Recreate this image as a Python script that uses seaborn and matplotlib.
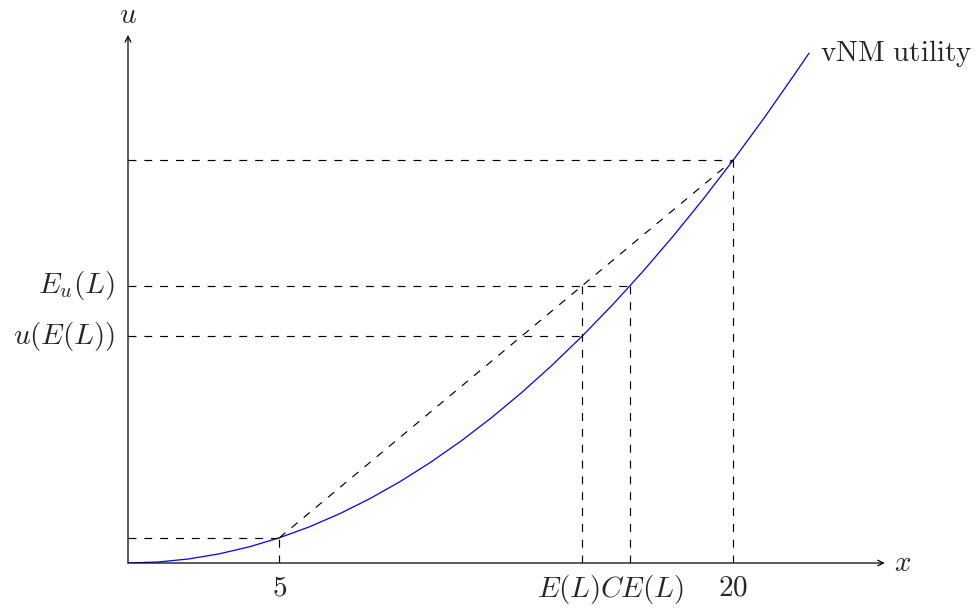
import numpy as np
import pandas as pd
import matplotlib
matplotlib.use("Agg")
import matplotlib.pyplot as plt
import seaborn as sns

# utility curve samples (u = x^2)
curve_x = [0, 1, 2, 3, 4, 5, 6, 7, 8, 9, 10, 11, 12, 13, 14, 15, 16, 17, 18, 19, 20, 21, 22, 22.5]
curve_u = [0, 1, 4, 9, 16, 25, 36, 49, 64, 81, 100, 121, 144, 169, 196, 225, 256, 289, 324, 361, 400, 441, 484, 506]

# lottery values
x_low, x_high = 5, 20
u_low, u_high = 25, 400
E_L = 15
u_EL = 225
Eu_L = 275
CE_L = 16.58

x_max, u_max = 25, 524

sns.set_style("white")
plt.rcParams["mathtext.fontset"] = "cm"
plt.rcParams["lines.scale_dashes"] = False

fig = plt.figure(figsize=(9.76, 6.09), dpi=100)
ax = fig.add_axes([128 / 976, 46 / 609, 756.7 / 976, 528 / 609])
ax.set_xlim(0, x_max)
ax.set_ylim(0, u_max)
for s in ax.spines.values():
    s.set_visible(False)

df = pd.DataFrame({"x": curve_x, "u": curve_u})
sns.lineplot(data=df, x="x", y="u", ax=ax, color="blue", lw=0.9, sort=True)

dash = dict(color="black", lw=0.85, ls=(0, (5.7, 5.7)))
segs = [
    ([0, x_low], [u_low, u_low]),
    ([x_low, x_low], [0, u_low]),
    ([x_low, x_high], [u_low, u_high]),
    ([0, x_high], [u_high, u_high]),
    ([x_high, x_high], [0, u_high]),
    ([0, CE_L], [Eu_L, Eu_L]),
    ([CE_L, CE_L], [0, Eu_L]),
    ([0, E_L], [u_EL, u_EL]),
    ([E_L, E_L], [0, Eu_L]),
]
for xs, ys in segs:
    ax.plot(xs, ys, **dash)

# axes arrows
arrow = dict(arrowstyle="->", color="black", lw=0.9, shrinkA=0, shrinkB=0)
ax.annotate("", xy=(x_max, 0), xytext=(0, 0), arrowprops=arrow, annotation_clip=False)
ax.annotate("", xy=(0, u_max), xytext=(0, 0), arrowprops=arrow, annotation_clip=False)

fs = 21
ax.text(x_max + 0.3, 0, r"$x$", fontsize=fs, ha="left", va="center")
ax.text(0, u_max + 6, r"$u$", fontsize=fs, ha="center", va="bottom")

ax.set_xticks([])
ax.set_yticks([])
ax.set_xlabel("")
ax.set_ylabel("")

# x tick labels
ty = -10
ax.text(x_low, ty, r"$5$", fontsize=fs, ha="center", va="top")
ax.text(x_high, ty, r"$20$", fontsize=fs, ha="center", va="top")
ax.annotate(r"$E(L)$", xy=(E_L, ty), xytext=(18, 0), textcoords="offset pixels",
            fontsize=fs, ha="right", va="top", annotation_clip=False)
ax.annotate(r"$CE(L)$", xy=(CE_L, ty), xytext=(-30, 0), textcoords="offset pixels",
            fontsize=fs, ha="left", va="top", annotation_clip=False)

# y labels
ax.annotate(r"$E_u(L)$", xy=(0, Eu_L), xytext=(-13, 0), textcoords="offset pixels",
            fontsize=fs, ha="right", va="center", annotation_clip=False)
ax.annotate(r"$u(E(L))$", xy=(0, u_EL), xytext=(-13, 0), textcoords="offset pixels",
            fontsize=fs, ha="right", va="center", annotation_clip=False)

# curve label
ax.annotate(r"$\mathrm{vNM\ utility}$", xy=(curve_x[-1], curve_u[-1]), xytext=(11, 0),
            textcoords="offset pixels", fontsize=fs, ha="left", va="center",
            annotation_clip=False)

fig.savefig("out.png", dpi=100)
